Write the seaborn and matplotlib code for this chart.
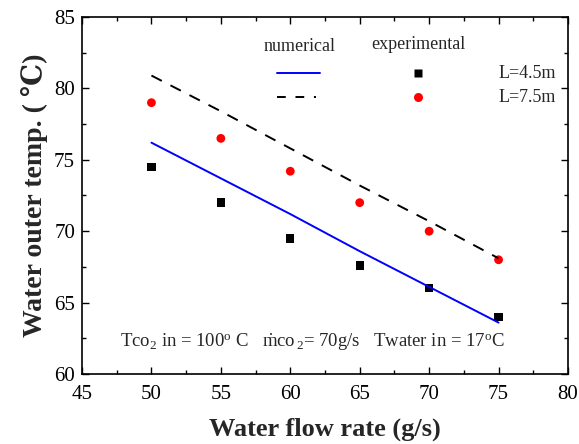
import matplotlib
matplotlib.use("Agg")
import matplotlib.pyplot as plt
import seaborn as sns
import pandas as pd
from matplotlib.ticker import MultipleLocator

flow = [50, 55, 60, 65, 70, 75]
exp_45 = [74.5, 72.0, 69.5, 67.6, 66.0, 64.0]
exp_75 = [79.0, 76.5, 74.2, 72.0, 70.0, 68.0]
num_45 = [76.2, 73.7, 71.2, 68.6, 66.1, 63.6]
num_75 = [80.9, 78.4, 75.8, 73.2, 70.7, 68.1]

sns.set_theme(style="ticks")
plt.rcParams['font.family'] = ['Liberation Serif', 'DejaVu Serif']
plt.rcParams['mathtext.fontset'] = 'custom'
plt.rcParams['mathtext.rm'] = 'Liberation Serif'
plt.rcParams['mathtext.it'] = 'Liberation Serif:italic'

fig = plt.figure(figsize=(5.79, 4.44), dpi=100)
ax = fig.add_axes([82/579, 1-374/444, (568-82)/579, (374-17)/444])

df = pd.DataFrame({"flow": flow, "e45": exp_45, "e75": exp_75, "n45": num_45, "n75": num_75})
sns.lineplot(data=df, x="flow", y="n45", ax=ax, color="blue", lw=1.4)
sns.lineplot(data=df, x="flow", y="n75", ax=ax, color="black", lw=1.4, linestyle=(0, (6, 5)))
sns.scatterplot(data=df, x="flow", y="e45", ax=ax, color="black", marker="s", s=36, edgecolor="none")
sns.scatterplot(data=df, x="flow", y="e75", ax=ax, color="red", marker="o", s=40, edgecolor="none")

ax.set_xlim(45, 80)
ax.set_ylim(60, 85)
ax.xaxis.set_major_locator(MultipleLocator(5))
ax.xaxis.set_minor_locator(MultipleLocator(2.5))
ax.yaxis.set_major_locator(MultipleLocator(5))
ax.yaxis.set_minor_locator(MultipleLocator(2.5))
ax.tick_params(which='both', direction='in', top=True, right=True, labelsize=15, width=1, color='black')
ax.tick_params(axis='x', pad=8)
ax.tick_params(axis='y', pad=5)
ax.tick_params(which='major', length=5)
ax.tick_params(which='minor', length=3)
for s in ax.spines.values():
    s.set_linewidth(1.2)
    s.set_color('black')
ax.set_xlabel("Water flow rate (g/s)", fontsize=19, fontweight='bold', labelpad=10)
ax.set_ylabel("Water outer temp. ( \u2103)", fontsize=20, fontweight='bold', labelpad=4)
for lbl in ax.get_xticklabels() + ax.get_yticklabels():
    lbl.set_color('black')

# custom legend
tr = ax.transAxes
def axx(px):
    return (px - 82) / (568 - 82)
def axy(py):
    return (374 - py) / (374 - 17)
ax.text(axx(300), axy(46), "numerical", transform=tr, ha='center', va='center', fontsize=13)
ax.text(axx(418), axy(44), "experimental", transform=tr, ha='center', va='center', fontsize=13)
ax.plot([axx(277), axx(320)], [axy(73), axy(73)], transform=tr, color='blue', lw=1.4)
ax.plot([axx(277), axx(316)], [axy(97), axy(97)], transform=tr, color='black', lw=1.4, linestyle=(0, (4.5, 5)))
ax.plot([axx(418)], [axy(73)], transform=tr, marker='s', ms=6, color='black', mec='none')
ax.plot([axx(418)], [axy(97)], transform=tr, marker='o', ms=6.5, color='red', mec='none')
ax.text(axx(556), axy(73), "L=4.5m", transform=tr, ha='right', va='center', fontsize=13)
ax.text(axx(556), axy(97), "L=7.5m", transform=tr, ha='right', va='center', fontsize=13)

ann = (r"Tco$_{2}$ in = 100$^{\rm o}$ C   $\dot{\rm m}$co$_{\,2}$= 70g/s   "
       r"Twater in = 17$^{\rm o}$C")
ax.text(axx(312), axy(342), ann, transform=tr, ha='center', va='center', fontsize=13.5)

fig.savefig("out.png", dpi=100)
